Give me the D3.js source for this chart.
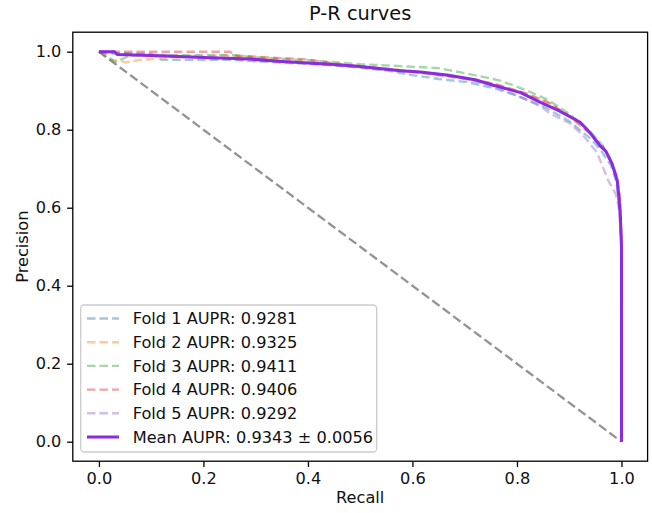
<!DOCTYPE html>
<html>
<head>
<meta charset="utf-8">
<script src="https://cdn.jsdelivr.net/npm/d3@7"></script>
<style>
  html, body { margin: 0; padding: 0; background: #fff; }
  svg { display: block; font-family: "DejaVu Sans", sans-serif; }
</style>
</head>
<body>
<svg id="chart" width="652" height="513"></svg>
<script>
// ---- data ----
const title = "P-R curves";
const xLabel = "Recall";
const yLabel = "Precision";
const xTicks = [0.0, 0.2, 0.4, 0.6, 0.8, 1.0];
const yTicks = [0.0, 0.2, 0.4, 0.6, 0.8, 1.0];

const legendLabels = [
  "Fold 1 AUPR: 0.9281",
  "Fold 2 AUPR: 0.9325",
  "Fold 3 AUPR: 0.9411",
  "Fold 4 AUPR: 0.9406",
  "Fold 5 AUPR: 0.9292",
  "Mean AUPR: 0.9343 \u00b1 0.0056"
];

// [recall, precision]
const fold1 = [[0,1],[0.02,0.995],[0.1,0.994],[0.12,0.979],[0.25,0.979],[0.35,0.972],[0.45,0.965],[0.55,0.952],[0.6,0.94],[0.65,0.93],[0.704,0.922],[0.76,0.905],[0.8,0.887],[0.85,0.86],[0.9,0.822],[0.94,0.778],[0.96,0.748],[0.98,0.708],[0.99,0.668],[0.997,0.6],[1,0.5],[1,0]];
const fold2 = [[0,1],[0.02,0.98],[0.053,0.973],[0.079,0.979],[0.142,0.985],[0.237,0.99],[0.3,0.983],[0.4,0.972],[0.5,0.963],[0.6,0.95],[0.7,0.932],[0.76,0.915],[0.82,0.89],[0.86,0.868],[0.9,0.835],[0.94,0.79],[0.965,0.755],[0.98,0.72],[0.99,0.68],[0.997,0.62],[1,0.5],[1,0]];
const fold3 = [[0,1],[0.02,0.985],[0.031,0.973],[0.059,0.99],[0.25,0.992],[0.3,0.986],[0.4,0.978],[0.5,0.968],[0.577,0.963],[0.65,0.958],[0.7,0.945],[0.768,0.926],[0.82,0.9],[0.86,0.876],[0.9,0.841],[0.94,0.796],[0.965,0.758],[0.98,0.722],[0.99,0.682],[0.997,0.62],[1,0.5],[1,0]];
const fold4 = [[0,1],[0.25,1.0],[0.264,0.99],[0.3,0.987],[0.4,0.98],[0.45,0.97],[0.5,0.962],[0.6,0.95],[0.7,0.933],[0.76,0.917],[0.82,0.892],[0.86,0.87],[0.9,0.836],[0.94,0.79],[0.965,0.755],[0.98,0.72],[0.99,0.685],[0.997,0.63],[1,0.5],[1,0]];
const fold5 = [[0,1],[0.03,0.997],[0.1,0.993],[0.2,0.985],[0.3,0.978],[0.4,0.97],[0.5,0.96],[0.6,0.948],[0.7,0.93],[0.76,0.91],[0.8,0.888],[0.845,0.86],[0.864,0.841],[0.902,0.816],[0.93,0.78],[0.953,0.742],[0.975,0.669],[0.989,0.635],[0.995,0.6],[1,0.5],[1,0]];
const meanCurve = [[0,1.0],[0.03,1.0],[0.035,0.993],[0.1,0.99],[0.2,0.985],[0.29,0.981],[0.35,0.975],[0.443,0.968],[0.5,0.962],[0.577,0.951],[0.615,0.948],[0.666,0.94],[0.72,0.928],[0.755,0.914],[0.807,0.895],[0.845,0.87],[0.88,0.849],[0.921,0.819],[0.94,0.792],[0.96,0.757],[0.97,0.745],[0.982,0.712],[0.992,0.669],[0.995,0.626],[0.998,0.575],[0.999,0.54],[1.0,0.5],[1.0,0.0]];
const chance = [[0,1],[1,0]];

const folds = [fold1, fold2, fold3, fold4, fold5];
const foldColors = ["#1f77b4", "#ff7f0e", "#2ca02c", "#d62728", "#9467bd"];
const meanColor = "#8a2be2";
const chanceColor = "#808080";

// ---- layout ----
const svg = d3.select("#chart");
const plot = { left: 72.8, right: 647.6, top: 32.2, bottom: 461.2 };
const FS = 16.2;

const x = d3.scaleLinear().domain([-0.05, 1.05]).range([plot.left, plot.right]);
const y = d3.scaleLinear().domain([-0.05, 1.05]).range([plot.bottom, plot.top]);

const line = d3.line().x(d => x(d[0])).y(d => y(d[1]));

const g = svg.append("g");

// fold curves
folds.forEach((f, i) => {
  g.append("path")
    .datum(f)
    .attr("d", line)
    .attr("fill", "none")
    .attr("stroke", foldColors[i])
    .attr("stroke-opacity", 0.42)
    .attr("stroke-width", 2.4)
    .attr("stroke-dasharray", "8.5,4");
});

// chance diagonal
g.append("path")
  .datum(chance)
  .attr("d", line)
  .attr("fill", "none")
  .attr("stroke", chanceColor)
  .attr("stroke-opacity", 0.85)
  .attr("stroke-width", 2.3)
  .attr("stroke-dasharray", "9,4");

// mean curve
g.append("path")
  .datum(meanCurve)
  .attr("d", line)
  .attr("fill", "none")
  .attr("stroke", meanColor)
  .attr("stroke-width", 3)
  .attr("stroke-linejoin", "round");

// axes
const xAxis = d3.axisBottom(x).tickValues(xTicks).tickFormat(d3.format(".1f")).tickSize(5.7).tickPadding(5.7);
const yAxis = d3.axisLeft(y).tickValues(yTicks).tickFormat(d3.format(".1f")).tickSize(5.7).tickPadding(5.7);

const gx = svg.append("g").attr("transform", `translate(0,${plot.bottom})`).call(xAxis);
const gy = svg.append("g").attr("transform", `translate(${plot.left},0)`).call(yAxis);
[gx, gy].forEach(a => {
  a.select(".domain").remove();
  a.selectAll("line").attr("stroke", "#000").attr("stroke-width", 1.3);
  a.selectAll("text").attr("fill", "#111").style("font-size", FS + "px").style("font-family", "'DejaVu Sans', sans-serif");
});

// frame
svg.append("rect")
  .attr("x", plot.left).attr("y", plot.top)
  .attr("width", plot.right - plot.left).attr("height", plot.bottom - plot.top)
  .attr("fill", "none").attr("stroke", "#000").attr("stroke-width", 1.3);

// labels
svg.append("text").attr("x", (plot.left + plot.right) / 2).attr("y", 19.5)
  .attr("text-anchor", "middle").attr("fill", "#111").style("font-size", "19.4px").text(title);
svg.append("text").attr("x", (plot.left + plot.right) / 2).attr("y", 503)
  .attr("text-anchor", "middle").attr("fill", "#111").style("font-size", FS + "px").text(xLabel);
svg.append("text").attr("transform", `translate(28,${(plot.top + plot.bottom) / 2}) rotate(-90)`)
  .attr("text-anchor", "middle").attr("fill", "#111").style("font-size", FS + "px").text(yLabel);

// legend
const lg = svg.append("g");
lg.append("rect")
  .attr("x", 80.7).attr("y", 305).attr("width", 296).attr("height", 147)
  .attr("rx", 3.5).attr("fill", "#fff").attr("fill-opacity", 0.8)
  .attr("stroke", "#cccccc").attr("stroke-width", 1.3);

legendLabels.forEach((lab, i) => {
  const cy = 318.5 + i * 23.7;
  const isMean = i === 5;
  lg.append("line")
    .attr("x1", 87).attr("x2", 119).attr("y1", cy).attr("y2", cy)
    .attr("stroke", isMean ? meanColor : foldColors[i])
    .attr("stroke-opacity", isMean ? 1 : 0.42)
    .attr("stroke-width", isMean ? 3 : 2.4)
    .attr("stroke-dasharray", isMean ? null : "8.5,4");
  lg.append("text")
    .attr("x", 132.7).attr("y", cy + 5.8)
    .style("font-size", FS + "px").attr("fill", "#111")
    .text(lab);
});
</script>
</body>
</html>
